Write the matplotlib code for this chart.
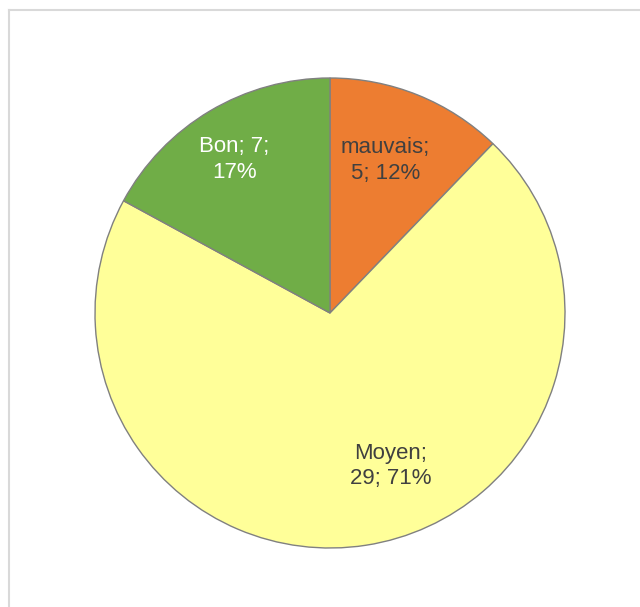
import numpy as np
import matplotlib.pyplot as plt
from matplotlib.lines import Line2D

categories = ['mauvais', 'Moyen', 'Bon']
counts = [5, 29, 7]
percents = ['12%', '71%', '17%']
colors = ['#ED7D31', '#FFFF99', '#70AD47']
text_colors = ['#404040', '#404040', '#ffffff']

# label placement (radius, angle in degrees) picked by eye
label_pos = [(0.69, 70.0), (0.70, -68.5), (0.77, 122.0)]
label_lines = ['mauvais;\n5; 12%', 'Moyen;\n29; 71%', 'Bon; 7;\n17%']

plt.rcParams['font.family'] = ['Liberation Sans', 'DejaVu Sans']

fig = plt.figure(figsize=(6.4, 6.07), dpi=100)
W, H = 640, 607
cx, cy, r = 330, 313, 235
ax = fig.add_axes([(cx - r) / W, (H - cy - r) / H, 2 * r / W, 2 * r / H])

wedges, _ = ax.pie(counts, colors=colors, startangle=90, counterclock=False,
                   radius=1, wedgeprops=dict(edgecolor='#808080', linewidth=1.0))
ax.set_xlim(-1, 1)
ax.set_ylim(-1, 1)
ax.set_aspect('equal')
ax.axis('off')

for (rad, ang), txt, tc in zip(label_pos, label_lines, text_colors):
    a = np.deg2rad(ang)
    ax.text(rad * np.cos(a), rad * np.sin(a), txt, ha='center', va='center',
            fontsize=16, color=tc, linespacing=1.27)

# chart area frame (left and top edges visible)
fig.add_artist(Line2D([8.5 / W, 8.5 / W], [0, 1 - 10 / H], transform=fig.transFigure,
                      color='#d9d9d9', linewidth=1.5))
fig.add_artist(Line2D([8.5 / W, 1], [1 - 10 / H, 1 - 10 / H], transform=fig.transFigure,
                      color='#d9d9d9', linewidth=1.5))

fig.savefig('out.png', dpi=100)
